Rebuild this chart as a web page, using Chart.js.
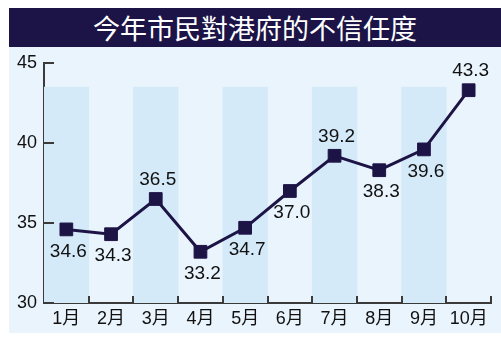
<!DOCTYPE html>
<html><head><meta charset="utf-8">
<script src="https://cdn.jsdelivr.net/npm/chart.js@4"></script>
<style>
html,body{margin:0;padding:0;background:#fff;}
#wrap{position:relative;width:501px;height:356px;}
#panel{position:absolute;left:9px;top:47px;width:492px;height:286px;background:#eaf4fc;}
#title{position:absolute;left:9px;top:8px;width:492px;height:39px;background:#1c1446;color:#fff;
font-family:"Noto Sans CJK TC","Noto Sans",sans-serif;font-size:27px;line-height:39px;text-align:center;}
canvas{position:absolute;left:0;top:0;}
</style></head>
<body><div id="wrap"><div id="panel"></div><div id="title">今年市民對港府的不信任度</div>
<canvas id="c" width="501" height="356"></canvas></div>
<script>
const categories = ["1月","2月","3月","4月","5月","6月","7月","8月","9月","10月"];
const distrust = [34.6, 34.3, 36.5, 33.2, 34.7, 37.0, 39.2, 38.3, 39.6, 43.3];
const bands = [43.5, null, 43.5, null, 43.5, null, 43.5, null, 43.5, null];
const labelAbove = [false, false, true, false, false, false, true, false, false, true];
const yTicks = [30, 35, 40, 45];

const NAVY = "#1d1446";
const FONT = '"Liberation Sans","Noto Sans CJK TC",sans-serif';

const decor = {
  id: "decor",
  afterDatasetsDraw(chart) {
    const ctx = chart.ctx, x = chart.scales.x, y = chart.scales.y;
    ctx.save();
    ctx.strokeStyle = "#3a3a3a"; ctx.lineWidth = 2;
    // y ticks inward
    yTicks.forEach(v => {
      const py = Math.round(y.getPixelForValue(v));
      ctx.beginPath(); ctx.moveTo(x.left, py); ctx.lineTo(x.left + 10, py); ctx.stroke();
    });
    // x ticks at category boundaries
    const half = (x.getPixelForValue(1) - x.getPixelForValue(0)) / 2;
    for (let i = 0; i < categories.length; i++) {
      const px = Math.round(x.getPixelForValue(i) + half);
      ctx.beginPath(); ctx.moveTo(px, y.bottom); ctx.lineTo(px, y.bottom - 7); ctx.stroke();
    }
    // value labels
    const meta = chart.getDatasetMeta(1);
    ctx.fillStyle = "#111"; ctx.font = "19px " + FONT;
    ctx.textAlign = "center"; ctx.textBaseline = "middle";
    meta.data.forEach((pt, i) => {
      const dy = labelAbove[i] ? -19 : 22;
      ctx.fillText(distrust[i].toFixed(1), pt.x + 2, pt.y + dy);
    });
    ctx.restore();
  }
};

new Chart(document.getElementById("c"), {
  data: {
    labels: categories,
    datasets: [
      { type: "bar", data: bands, backgroundColor: "#d5eaf9", barPercentage: 1, categoryPercentage: 1, order: 2 },
      { type: "line", data: distrust, borderColor: NAVY, borderWidth: 3, pointStyle: "rect",
        pointRadius: 9, pointBackgroundColor: NAVY, pointBorderColor: NAVY, pointBorderWidth: 1,
        tension: 0, clip: false, order: 1 }
    ]
  },
  options: {
    responsive: false, animation: false, devicePixelRatio: 1,
    layout: { padding: { top: 63, right: 7, bottom: 0, left: 0 } },
    plugins: { legend: { display: false }, tooltip: { enabled: false }, title: { display: false } },
    scales: {
      x: {
        offset: true,
        grid: { display: false, drawTicks: false },
        border: { display: true, color: "#3a3a3a", width: 2 },
        ticks: { color: "#111", font: { size: 18, family: FONT }, padding: 5, maxRotation: 0, autoSkip: false },
        afterFit(s) { s.height = 53; }
      },
      y: {
        min: 30, max: 45,
        afterBuildTicks(s) { s.ticks = yTicks.map(v => ({ value: v })); },
        grid: { display: false, drawTicks: false },
        border: { display: true, color: "#3a3a3a", width: 2 },
        ticks: { color: "#111", font: { size: 18, family: FONT }, padding: 7 },
        afterFit(s) { s.width = 44; }
      }
    }
  },
  plugins: [decor]
});
</script></body></html>
